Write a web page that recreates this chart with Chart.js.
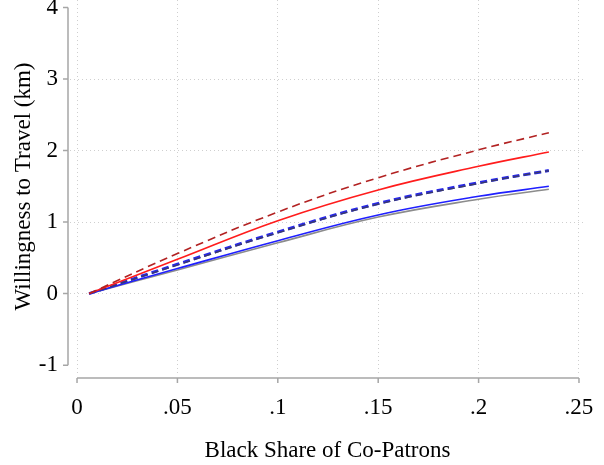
<!DOCTYPE html>
<html>
<head>
<meta charset="utf-8">
<script src="https://cdn.jsdelivr.net/npm/chart.js@4/dist/chart.umd.min.js"></script>
<style>
  html, body { margin: 0; padding: 0; background: #fff; }
  #wrap { width: 604px; height: 465px; }
</style>
</head>
<body>
<div id="wrap"><canvas id="wtp"></canvas></div>
<script>
// black share of co-patrons (x) and willingness to travel in km (y)
const shareX = [0.006, 0.05, 0.1, 0.15, 0.2, 0.235];
const darkRedDash = [0, 0.56, 1.14, 1.62, 2.01, 2.25];
const redSolid = [0, 0.48, 1.02, 1.45, 1.78, 1.98];
const blueDash = [0, 0.41, 0.86, 1.26, 1.55, 1.72];
const navyDash = [0, 0.40, 0.85, 1.25, 1.54, 1.72];
const blueSolid = [0, 0.35, 0.74, 1.10, 1.36, 1.50];
const graySolid = [0, 0.33, 0.71, 1.07, 1.32, 1.46];

const xTicks = [0, 0.05, 0.1, 0.15, 0.2, 0.25];
const yTicks = [-1, 0, 1, 2, 3, 4];

const serif = 'Liberation Serif, Times New Roman, serif';

function pts(ys) {
  return shareX.map((x, i) => ({ x: x, y: ys[i] }));
}

function line(ys, color, width, dash) {
  return {
    data: pts(ys),
    borderColor: color,
    borderWidth: width,
    borderDash: dash || [],
    pointRadius: 0,
    tension: 0.4,
    fill: false,
  };
}

// Stata-style detached axes drawn next to the plot region
const axisLines = {
  id: 'axisLines',
  afterDraw(chart) {
    const ctx = chart.ctx;
    const xs = chart.scales.x;
    const ys = chart.scales.y;
    ctx.save();
    ctx.strokeStyle = '#a6a6a6';
    ctx.lineWidth = 1.5;
    // y axis
    const ax = 68;
    ctx.beginPath();
    ctx.moveTo(ax, ys.getPixelForValue(-1));
    ctx.lineTo(ax, ys.getPixelForValue(4));
    yTicks.forEach((v) => {
      const p = ys.getPixelForValue(v);
      ctx.moveTo(ax, p);
      ctx.lineTo(ax - 5, p);
    });
    ctx.stroke();
    // x axis
    const ay = 378;
    ctx.beginPath();
    ctx.moveTo(xs.getPixelForValue(0), ay);
    ctx.lineTo(xs.getPixelForValue(0.25), ay);
    xTicks.forEach((v) => {
      const p = xs.getPixelForValue(v);
      ctx.moveTo(p, ay);
      ctx.lineTo(p, ay + 5);
    });
    ctx.stroke();
    ctx.restore();
  },
};

new Chart(document.getElementById('wtp').getContext('2d'), {
  type: 'line',
  data: {
    datasets: [
      line(darkRedDash, '#b22222', 1.6, [8, 5]),
      line(redSolid, '#ff1c1c', 1.6),
      line(navyDash, '#3b3b66', 1.3, [7, 4]),
      line(blueDash, '#2828e6', 3, [7, 4]),
      line(blueSolid, '#1f1fff', 1.6),
      line(graySolid, '#8c8c8c', 1.6),
    ],
  },
  options: {
    responsive: true,
    maintainAspectRatio: false,
    animation: false,
    layout: { padding: { left: 0, right: 19, top: 0, bottom: 0 } },
    plugins: { legend: { display: false }, tooltip: { enabled: false } },
    scales: {
      x: {
        type: 'linear',
        min: -0.0035,
        max: 0.253,
        border: { display: false, dash: [1, 3] },
        grid: { color: '#cfcfcf', drawTicks: false },
        afterBuildTicks: (s) => { s.ticks = xTicks.map((v) => ({ value: v })); },
        afterFit: (s) => { s.height = 92; s.paddingLeft = 0; s.paddingRight = 0; },
        ticks: {
          color: '#000',
          padding: 21,
          font: { family: serif, size: 23 },
          callback: (v) => (v === 0 ? '0' : String(v).replace(/^0/, '')),
        },
        title: {
          display: true,
          text: 'Black Share of Co-Patrons',
          color: '#000',
          font: { family: serif, size: 23 },
          padding: { top: 0, bottom: 0 },
        },
      },
      y: {
        min: -1.11,
        max: 4.105,
        border: { display: false, dash: [1, 3] },
        grid: {
          color: (c) => (c.tick && c.tick.value >= 0 && c.tick.value <= 3 ? '#cfcfcf' : 'rgba(0,0,0,0)'),
          drawTicks: false,
        },
        afterBuildTicks: (s) => { s.ticks = yTicks.map((v) => ({ value: v })); },
        afterFit: (s) => { s.width = 70; s.paddingTop = 0; s.paddingBottom = 0; },
        ticks: {
          color: '#000',
          padding: 12,
          font: { family: serif, size: 23 },
        },
        title: {
          display: true,
          text: 'Willingness to Travel (km)',
          color: '#000',
          font: { family: serif, size: 23 },
          padding: { top: 10, bottom: 0 },
        },
      },
    },
  },
  plugins: [axisLines],
});
</script>
</body>
</html>
